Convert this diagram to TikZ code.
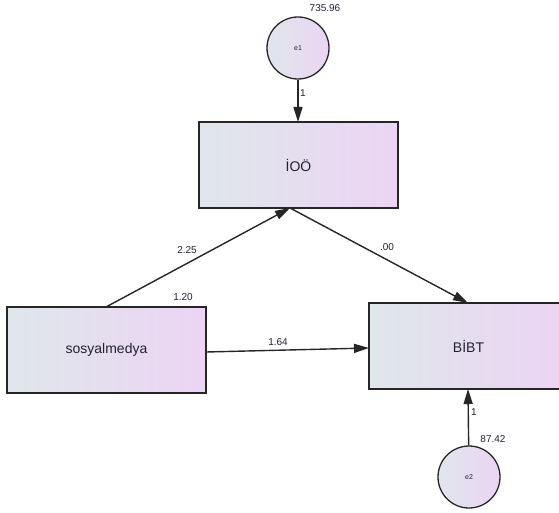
\documentclass[tikz,border=0pt]{standalone}
\usepackage{fontspec}
\setmainfont{Liberation Sans}
\usetikzlibrary{arrows.meta}
\definecolor{lc}{HTML}{DFE7EB}
\definecolor{rc}{HTML}{ECD4F4}
\definecolor{ln}{HTML}{262626}
\definecolor{tx}{HTML}{222233}
\begin{document}
\begin{tikzpicture}[x=1pt,y=-1pt,
  obs/.style={draw=ln,line width=1.4pt,left color=lc,right color=rc,minimum width=199pt,minimum height=86pt,inner sep=0pt,font=\fontsize{14}{16}\selectfont,text=tx},
  err/.style={circle,draw=ln,line width=1.3pt,left color=lc,right color=rc,minimum size=62pt,inner sep=0pt,font=\fontsize{7}{8}\selectfont,text=tx},
  arr/.style={draw=ln,line width=1.4pt,-{Triangle[length=15pt,width=9pt]}},
  lab/.style={font=\fontsize{10}{12}\selectfont,text=tx,inner sep=0pt}]
\useasboundingbox (0,0) rectangle (559,513);
\begin{scope}
\clip (0,0) rectangle (559,513);
\node[err] (e1) at (298,48) {e1};
\node[obs] (ioo) at (298.5,165) {İOÖ};
\node[obs] (sos) at (106.5,350) {sosyalmedya};
\node[obs] (bibt) at (468.5,346) {BİBT};
\node[err] (e2) at (469,477) {e2};
\coordinate (iootop) at (298,122);
\coordinate (ioobot) at (290,208);
\coordinate (sostop) at (106,307);
\coordinate (sosright) at (206,352);
\coordinate (bibtleft) at (369,348);
\coordinate (bibttop) at (468,303);
\coordinate (bibtbot) at (468,389);
\draw[arr] (e1) -- (iootop);
\draw[arr] (sostop) -- (ioobot);
\draw[arr] (ioobot) -- (bibttop);
\draw[arr] (sosright) -- (bibtleft);
\draw[arr] (e2) -- (bibtbot);
\node[lab] (l735) at (325,8) {735.96};
\node[lab] (l1a) at (303,93) {1};
\node[lab] (l225) at (187,250) {2.25};
\node[lab] (l00) at (387,247) {.00};
\node[lab] (l120) at (183,297) {1.20};
\node[lab] (l164) at (278,342) {1.64};
\node[lab] (l1b) at (474,412) {1};
\node[lab] (l8742) at (493,439) {87.42};
\end{scope}
\end{tikzpicture}
\end{document}
